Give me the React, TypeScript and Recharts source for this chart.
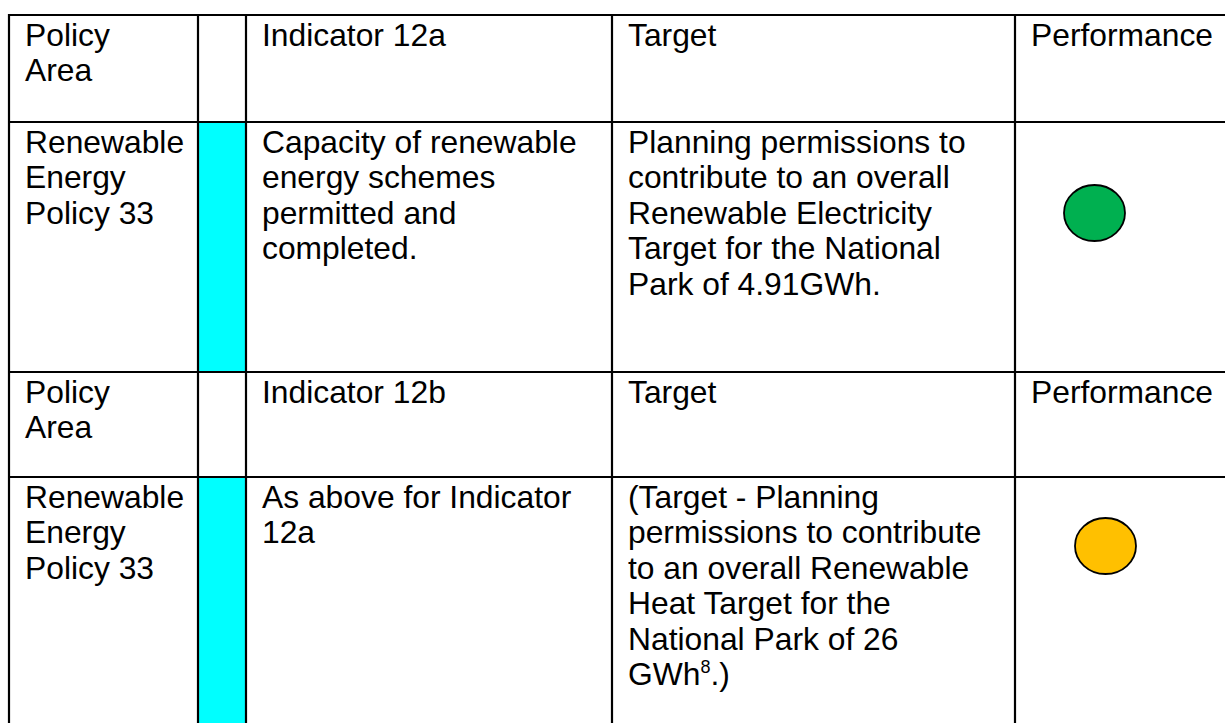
import React from "react";
import { ScatterChart, Scatter, XAxis, YAxis, ReferenceLine, ReferenceArea } from "recharts";

// ---------- data ----------
const headerTop = [["Policy", "Area"], [], ["Indicator 12a"], ["Target"], ["Performance"]];
const headerBottom = [["Policy", "Area"], [], ["Indicator 12b"], ["Target"], ["Performance"]];
const policyAreas = [
  ["Renewable", "Energy", "Policy 33"],
  ["Renewable", "Energy", "Policy 33"],
];
const indicatorTexts = [
  ["Capacity of renewable", "energy schemes", "permitted and", "completed."],
  ["As above for Indicator", "12a"],
];
const targetTexts = [
  [
    "Planning permissions to",
    "contribute to an overall",
    "Renewable Electricity",
    "Target for the National",
    "Park of 4.91GWh.",
  ],
  [
    "(Target - Planning",
    "permissions to contribute",
    "to an overall Renewable",
    "Heat Target for the",
    "National Park of 26",
    "GWh⁸.)",
  ],
];
const performance = ["Green", "Amber"];
const statusColors: Record<string, string> = { Green: "#00B050", Amber: "#FFC000" };

// ---------- layout ----------
const W = 1225;
const H = 723;
const COL_EDGES = [9, 198, 246, 612, 1015, 1300];
const ROW_EDGES = [15, 122, 372, 477, 800];
const BODY_ROWS = [1, 3];
const CIRCLE_POS = [
  { dx: 79.5, dy: 91 },
  { dx: 90.5, dy: 69 },
];
const FONT = "'Liberation Sans', Arial, sans-serif";
const FONT_SIZE = 31.8;
const LINE_H = 35.5;

type Cell = { x: number; y: number; lines: string[] };
const cells: Cell[] = [];
const pushRow = (r: number, cols: string[][]) =>
  cols.forEach((lines, c) => {
    if (lines.length) cells.push({ x: COL_EDGES[c], y: ROW_EDGES[r], lines });
  });
pushRow(0, headerTop);
pushRow(2, headerBottom);
BODY_ROWS.forEach((r, i) => {
  pushRow(r, [policyAreas[i], [], indicatorTexts[i], targetTexts[i], []]);
});

const circles = performance.map((status, i) => ({
  x: COL_EDGES[4] + CIRCLE_POS[i].dx,
  y: ROW_EDGES[BODY_ROWS[i]] + CIRCLE_POS[i].dy,
  status,
}));

const renderLine = (line: string) => {
  const parts = line.split("⁸");
  if (parts.length === 1) return line;
  return (
    <>
      {parts[0]}
      <tspan fontSize={18} dy={-12}>8</tspan>
      <tspan dy={12}>{parts[1]}</tspan>
    </>
  );
};

const TextShape = (props: any) => {
  const { cx, cy, payload } = props;
  return (
    <g>
      {payload.lines.map((line: string, i: number) => (
        <text
          key={i}
          x={cx + 16}
          y={cy + 30.5 + i * LINE_H}
          fontFamily={FONT}
          fontSize={FONT_SIZE}
          fill="#000"
        >
          {renderLine(line)}
        </text>
      ))}
    </g>
  );
};

const CircleShape = (props: any) => {
  const { cx, cy, payload } = props;
  return (
    <ellipse
      cx={cx}
      cy={cy}
      rx={30.5}
      ry={28}
      fill={statusColors[payload.status]}
      stroke="#000"
      strokeWidth={1.8}
    />
  );
};

export default function App() {
  return (
    <div style={{ position: "absolute", left: 0, top: 0, width: W, height: H, background: "#fff" }}>
      <ScatterChart width={W} height={H} margin={{ top: 0, right: 0, bottom: 0, left: 0 }}>
        <XAxis type="number" dataKey="x" domain={[0, W]} allowDataOverflow hide />
        <YAxis type="number" dataKey="y" domain={[0, H]} allowDataOverflow reversed hide />
        {BODY_ROWS.map((r) => (
          <ReferenceArea
            key={"cy" + r}
            x1={COL_EDGES[1]}
            x2={COL_EDGES[2]}
            y1={ROW_EDGES[r]}
            y2={Math.min(ROW_EDGES[r + 1], H)}
            fill="#00FFFF"
            fillOpacity={1}
            stroke="none"
          />
        ))}
        {ROW_EDGES.filter((y) => y < H).map((y) => (
          <ReferenceLine
            key={"h" + y}
            segment={[
              { x: COL_EDGES[0] - 1, y },
              { x: W, y },
            ]}
            stroke="#000"
            strokeWidth={2.2}
          />
        ))}
        {COL_EDGES.filter((x) => x < W).map((x) => (
          <ReferenceLine
            key={"v" + x}
            segment={[
              { x, y: ROW_EDGES[0] - 1 },
              { x, y: H },
            ]}
            stroke="#000"
            strokeWidth={2.2}
          />
        ))}
        <Scatter data={cells} shape={TextShape} isAnimationActive={false} />
        <Scatter data={circles} shape={CircleShape} isAnimationActive={false} />
      </ScatterChart>
    </div>
  );
}
